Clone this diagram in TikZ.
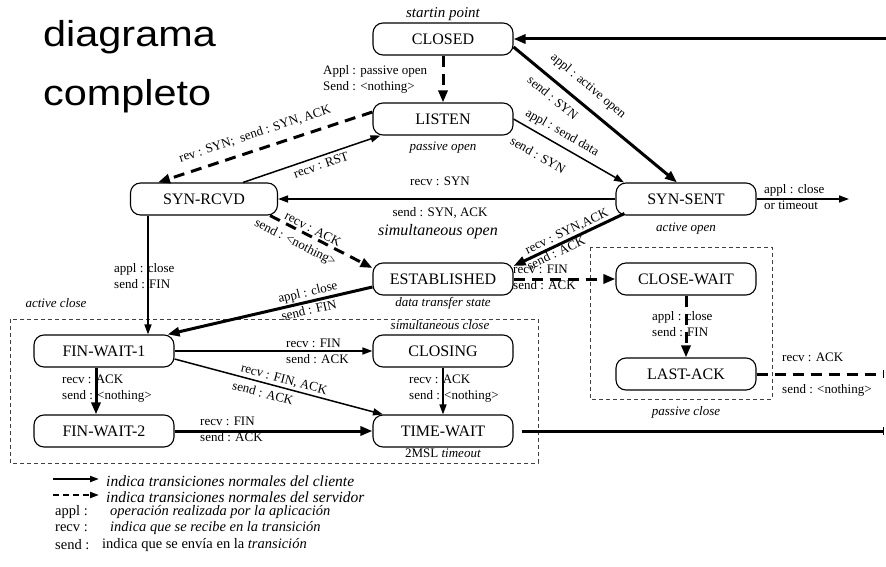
\documentclass[tikz,border=0pt]{standalone}
\usepackage{fontspec}
\setmainfont{Liberation Serif}
\newfontfamily\titlefont{Liberation Sans}
\usetikzlibrary{arrows.meta}

\tikzset{
  state/.style={draw, line width=1.1pt, rounded corners=10pt,
    minimum width=140pt, minimum height=32pt, inner sep=0pt,
    font=\fontsize{16}{18}\selectfont},
  lbl/.style={font=\fontsize{13}{16}\selectfont, inner sep=0pt, align=left},
  note/.style={font=\fontsize{13}{16}\selectfont\itshape, inner sep=0pt},
  legtext/.style={font=\fontsize{14.5}{16}\selectfont, inner sep=0pt, anchor=west},
  legwide/.style={legtext, font=\fontsize{15.5}{16}\selectfont\itshape},
  solidarrow/.style={line width=1.5pt, -{Triangle[length=10pt,width=7pt]}},
  heavyline/.style={line width=3pt},
  heavyarrow/.style={heavyline, -{Triangle[length=12pt,width=9pt]}},
  dashline/.style={line width=3pt, dash pattern=on 11pt off 7pt},
  dasharrow/.style={dashline, -{Triangle[length=12pt,width=9pt]}},
  edgebar/.style={-{Bar[width=8pt,line width=1.5pt]}},
  region/.style={draw=black!75, line width=0.9pt, dash pattern=on 4pt off 3pt},
}

\begin{document}
\begin{tikzpicture}[x=1pt,y=-1pt]
\useasboundingbox (0,0) rectangle (886,567);
\clip (0,0) rectangle (886,567);

% title
\node[anchor=base west, inner sep=0pt, xscale=1.15,
      font=\titlefont\fontsize{36}{40}\selectfont] (title1) at (43,47) {diagrama};
\node[anchor=base west, inner sep=0pt, xscale=1.15,
      font=\titlefont\fontsize{36}{40}\selectfont] (title2) at (43,106) {completo};

% grouping frames
\draw[region] (10,319) rectangle (538,463);
\draw[region] (590,247) rectangle (772,399);

% states
\node[state] (closed)    at (443,39)  {CLOSED};
\node[state] (listen)    at (443,119) {LISTEN};
\node[state, minimum width=147pt] (synrcvd) at (204,199) {SYN-RCVD};
\node[state] (synsent)   at (686,199) {SYN-SENT};
\node[state] (estab)     at (443,279) {ESTABLISHED};
\node[state] (closewait) at (686,279) {CLOSE-WAIT};
\node[state] (lastack)   at (686,374) {LAST-ACK};
\node[state] (fw1)       at (104,351) {FIN-WAIT-1};
\node[state] (fw2)       at (104,431) {FIN-WAIT-2};
\node[state] (closing)   at (443,351) {CLOSING};
\node[state] (timewait)  at (443,431) {TIME-WAIT};

% state annotations
\node[note, font=\fontsize{15}{16}\selectfont\itshape] (nstart) at (443,14) {startin point};
\node[note] (npassive) at (443,148) {passive open};
\node[note] (nactive)  at (686,229) {active open};
\node[note] (ndata)    at (443,303) {data transfer state};
\node[note] (nsimcl)   at (440,325) {simultaneous close};
\node[lbl]  (n2msl)    at (443,453) {2MSL \textit{timeout}};
\node[note] (nactcl)   at (56,303)  {active close};
\node[note] (npascl)   at (686,412) {passive close};
\node[note, font=\fontsize{16}{18}\selectfont\itshape] (nsimop) at (438,232) {simultaneous open};

% free ends
\coordinate (rtop)  at (892,39);
\coordinate (rlast) at (884,374);
\coordinate (rtime) at (884,431);
\coordinate (ssout) at (849,199);

% transitions
\draw[dasharrow]  (closed) -- (listen);
\draw[heavyarrow] ([yshift=-8pt]closed.east) -- ([xshift=-9pt]synsent.north);
\draw[solidarrow] (listen.east) -- ([xshift=-62pt]synsent.north);
\draw[solidarrow] (synsent) -- (synrcvd);
\draw[dasharrow]  ([yshift=7pt]listen.west) -- ([xshift=-46pt]synrcvd.north);
\draw[solidarrow] ([xshift=39pt]synrcvd.north) -- ([xshift=8pt]listen.south west);
\draw[dasharrow]  ([xshift=-8pt]synrcvd.south east) -- ([yshift=11pt]estab.west);
\draw[heavyarrow] ([xshift=9pt,yshift=2pt]synsent.south west) -- ([yshift=13pt]estab.east);
\draw[dasharrow]  (estab) -- (closewait);
\draw[dasharrow]  (closewait) -- (lastack);
\draw[dashline, edgebar] (lastack.east) -- (rlast);
\draw[heavyarrow] ([yshift=-8pt]estab.west) -- ([xshift=-7pt]fw1.north east);
\draw[solidarrow] ([xshift=-56pt]synrcvd.south) -- ([xshift=44pt]fw1.north);
\draw[solidarrow] (fw1) -- (closing);
\draw[solidarrow] ([yshift=-8pt]fw1.east) -- ([xshift=-60pt]timewait.north);
\draw[solidarrow] (closing) -- (timewait);
\draw[heavyarrow] ([xshift=-8pt]fw1.south) -- ([xshift=-8pt]fw2.north);
\draw[heavyarrow] (fw2) -- (timewait);
\draw[heavyline, edgebar] ([xshift=8pt]timewait.east) -- (rtime);
\draw[solidarrow] (synsent.east) -- (ssout);
\draw[heavyarrow] (rtop) -- (closed.east);

% transition labels, horizontal
\node[lbl, anchor=west] (lclls)  at (323,79.5) {Appl : passive open\\Send : <nothing>};
\node[lbl] (lrsyn)  at (440,181) {recv : SYN};
\node[lbl] (lssa)   at (440,213) {send : SYN, ACK};
\node[lbl, anchor=west] (lssout) at (764,197) {appl : close\\or timeout};
\node[lbl, anchor=west] (lsrfw)  at (114,276) {appl : close\\send : FIN};
\node[lbl, anchor=west] (lescw)  at (513,277) {recv : FIN\\send : ACK};
\node[lbl, anchor=west] (lcwla)  at (652,324.5) {appl : close\\send : FIN};
\node[lbl, anchor=west] (llaack) at (782,357) {recv : ACK};
\node[lbl, anchor=west] (llanot) at (782,390) {send : <nothing>};
\node[lbl, anchor=west] (lfwcl)  at (286,351.5) {recv : FIN\\send : ACK};
\node[lbl, anchor=west] (lfwfw)  at (62,389) {recv : ACK\\send : <nothing>};
\node[lbl, anchor=west] (lcltw)  at (409,389) {recv : ACK\\send : <nothing>};
\node[lbl, anchor=west] (lfw2tw) at (200,429) {recv : FIN\\send : ACK};

% transition labels, along slanted connectors
\node[lbl, rotate=-39.7] (lact)  at (588,86)  {appl : active open};
\node[lbl, rotate=-39.7] (lsyn1) at (553,98)  {send : SYN};
\node[lbl, rotate=-30]   (ldata) at (562,133) {appl : send data};
\node[lbl, rotate=-30]   (lsyn2) at (538,155) {send : SYN};
\node[lbl, rotate=18.3]  (lrev)  at (255,134) {rev : SYN;\ \ send : SYN, ACK};
\node[lbl, rotate=19.2]  (lrst)  at (321,165) {recv : RST};
\node[lbl, rotate=-27.2] (lack1) at (313,229) {recv : ACK};
\node[lbl, rotate=-27.2] (lnot1) at (295,243) {send : <nothing>};
\node[lbl, rotate=25.3]  (lsa)   at (567,232) {recv : SYN,ACK};
\node[lbl, rotate=25.3]  (lsack) at (556,253) {send : ACK};
\node[lbl, rotate=13.1]  (lclo)  at (308,293) {appl : close};
\node[lbl, rotate=13.1]  (lfin)  at (309,310) {send : FIN};
\node[lbl, rotate=-15]   (lfa)   at (284,380) {recv : FIN, ACK};
\node[lbl, rotate=-15]   (lfack) at (263,393) {send : ACK};

% legend
\coordinate (lga) at (53,479);
\coordinate (lgb) at (99,479);
\coordinate (lgc) at (53,495);
\coordinate (lgd) at (99,495);
\draw[line width=2pt, -{Triangle[length=9pt,width=6pt]}] (lga) -- (lgb);
\draw[line width=2pt, dash pattern=on 6pt off 4pt, -{Triangle[length=9pt,width=6pt]}] (lgc) -- (lgd);
\node[legwide] (lg1) at (106,481) {indica transiciones normales del cliente};
\node[legwide] (lg2) at (106,497) {indica transiciones normales del servidor};
\node[legtext] (lg3k) at (55,512) {appl :};
\node[legtext] (lg3)  at (110,512) {\itshape operación realizada por la aplicación};
\node[legtext] (lg4k) at (55,528) {recv :};
\node[legtext] (lg4)  at (110,528) {\itshape indica que se recibe en la transición};
\node[legtext] (lg5k) at (55,545) {send :};
\node[legtext] (lg5)  at (102,545) {indica que se envía en la \textit{transición}};
\end{tikzpicture}
\end{document}
